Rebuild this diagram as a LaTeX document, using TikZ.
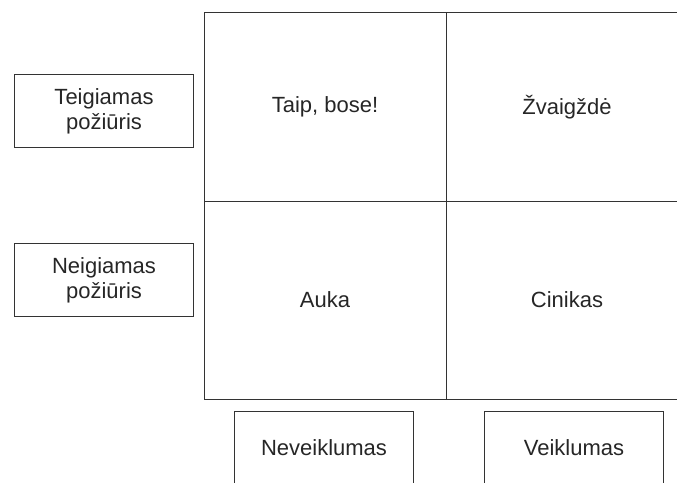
\documentclass[tikz,border=0pt]{standalone}
\usepackage{fontspec}
\setmainfont{Liberation Sans}
\begin{document}
\begin{tikzpicture}[x=1pt,y=-1pt,
  every node/.style={font=\fontsize{22}{24.7}\selectfont, text=black!85},
  lbl/.style={draw=black!80, line width=1pt, minimum width=179pt, minimum height=73pt, anchor=north west, inner sep=0pt, align=center},
  grid/.style={draw=black!80, line width=1pt}]
\useasboundingbox (0,0) rectangle (677,482);
% grid
\draw[grid] (204,12) rectangle (688,399);
\draw[grid] (446,12) -- (446,399);
\draw[grid] (204,201) -- (688,201);
\node (tl) at (325,107) {Taip, bose!};
\node (tr) at (567,107) {Žvaigždė};
\node (bl) at (325,300) {Auka};
\node (br) at (567,300) {Cinikas};
% side labels
\node[lbl] (pos) at (14,74) {Teigiamas\\požiūris};
\node[lbl] (neg) at (14,243) {Neigiamas\\požiūris};
\node[lbl] (nev) at (234,411) {Neveiklumas};
\node[lbl] (vei) at (484,411) {Veiklumas};
\end{tikzpicture}
\end{document}
